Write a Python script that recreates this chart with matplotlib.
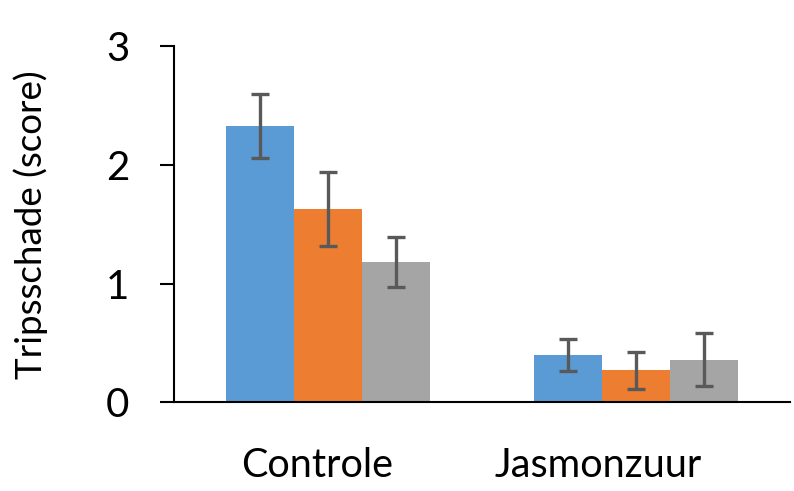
import matplotlib
matplotlib.use("Agg")
import matplotlib.pyplot as plt
import matplotlib.transforms as mtransforms
import numpy as np

plt.rcParams["font.family"] = ["Lato", "DejaVu Sans"]

groups = ["Controle", "Jasmonzuur"]
series_colors = ["#5B9BD5", "#ED7D31", "#A5A5A5"]
means = [
    [2.33, 0.40],
    [1.63, 0.27],
    [1.18, 0.36],
]
errors = [
    [0.27, 0.135],
    [0.31, 0.155],
    [0.21, 0.225],
]
# label shift (px) relative to the group centre, as in the original
label_shift = [-11, -38]

fig = plt.figure(figsize=(7.94, 4.91), dpi=100)
ax = fig.add_axes([0.219, 0.1806, 0.776, 0.7251])

x = np.arange(len(groups))
width = 0.22
for i in range(3):
    ax.bar(
        x + (i - 1) * width,
        means[i],
        width=width,
        color=series_colors[i],
        yerr=errors[i],
        error_kw=dict(ecolor="#595959", elinewidth=2.4, capsize=6.5, capthick=2.4),
    )

ax.set_xlim(-0.5, 1.5)
ax.set_ylim(0, 3)
ax.set_yticks([0, 1, 2, 3])
ax.set_xticks(x)
ax.set_xticklabels(groups)

ax.spines["top"].set_visible(False)
ax.spines["right"].set_visible(False)
ax.spines["left"].set_linewidth(1.5)
ax.spines["bottom"].set_linewidth(1.5)

ax.tick_params(axis="y", direction="out", length=10, width=1.5, pad=22, labelsize=29)
ax.tick_params(axis="x", length=0, pad=32, labelsize=28.5)
ax.set_ylabel("Tripsschade (score)", fontsize=26.5)
ax.yaxis.set_label_coords(-0.205, 0.5)

for lab, dx in zip(ax.get_xticklabels(), label_shift):
    lab.set_transform(lab.get_transform() + mtransforms.ScaledTranslation(dx / 100, 0, fig.dpi_scale_trans))

fig.savefig("out.png", dpi=100)
